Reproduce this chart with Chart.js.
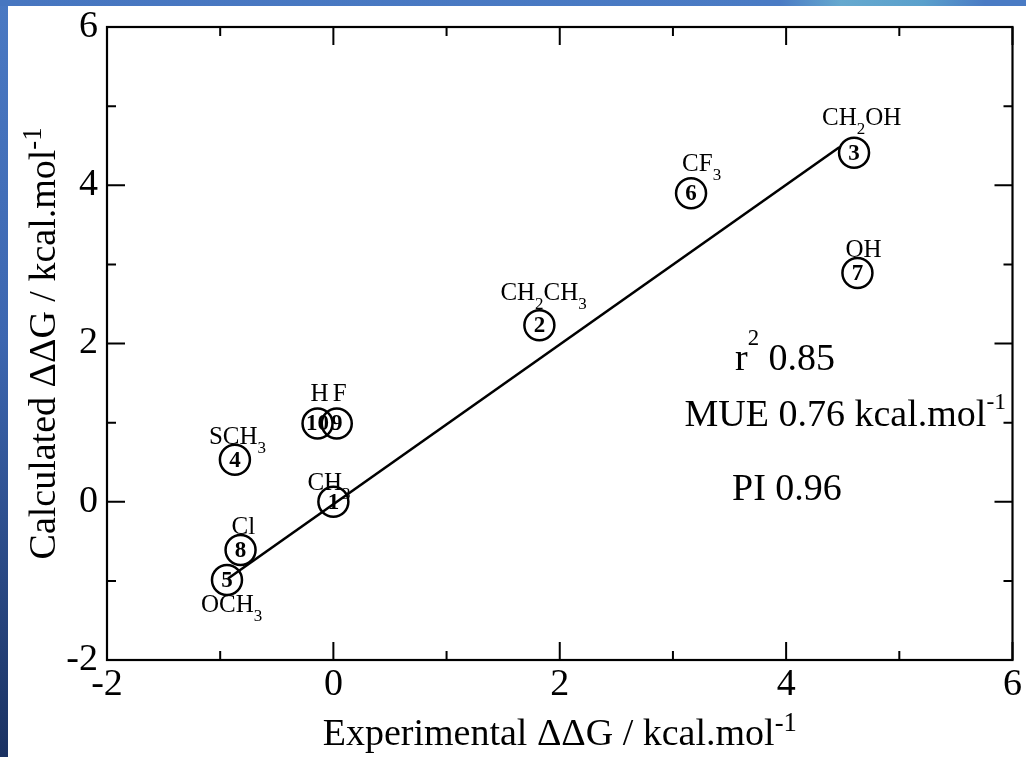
<!DOCTYPE html>
<html>
<head>
<meta charset="utf-8">
<script src="https://cdn.jsdelivr.net/npm/chart.js@4"></script>
<style>
  html, body { margin: 0; padding: 0; }
  body {
    width: 1026px; height: 757px; overflow: hidden; position: relative;
    background: linear-gradient(to bottom, #4a79c3 0%, #3c66b0 45%, #1b3262 100%);
  }
  #topband {
    position: absolute; left: 0; top: 0; width: 1026px; height: 6px;
    background: linear-gradient(to right, #4776c0 0%, #4a7bc4 76%, #66a9cf 82%, #5aa0cc 90%, #4a7bc4 96%);
  }
  #panel { position: absolute; left: 8px; top: 6px; right: 0; bottom: 0; background: #fff; }
  #wrap { position: absolute; left: 0; top: 0; width: 1026px; height: 757px; overflow: hidden; }
  #ddgChart { display: block; }
</style>
</head>
<body>
<div id="topband"></div>
<div id="panel"></div>
<div id="wrap"><canvas id="ddgChart" width="1030" height="757"></canvas></div>
<script>
// DATA

const compoundIds = ['1', '2', '3', '4', '5', '6', '7', '8', '9', '10'];
const substituents = ['CH_3', 'CH_2CH_3', 'CH_2OH', 'SCH_3', 'OCH_3', 'CF_3', 'OH', 'Cl', 'F', 'H'];
const experimentalDDG = [0.00, 1.82, 4.60, -0.87, -0.94, 3.16, 4.63, -0.82, 0.03, -0.14];
const calculatedDDG = [0.00, 2.23, 4.41, 0.53, -0.99, 3.90, 2.89, -0.61, 0.99, 0.99];

const fitX = [-0.93, 4.47];
const fitY = [-0.97, 4.48];

const xTickValues = [-2, 0, 2, 4, 6];
const yTickValues = [-2, 0, 2, 4, 6];

const statLines = ['r^2 0.85', 'MUE 0.76 kcal.mol^-1', 'PI 0.96'];
const xTitle = 'Experimental ΔΔG / kcal.mol^-1';
const yTitle = 'Calculated ΔΔG / kcal.mol^-1';

// label placement (pixels from circle centre: start x, baseline y)
const labelOffsets = [[-26, -12], [-39, -25], [-32, -28], [-26, -16], [-26, 32],
                      [-9, -22], [-12, -16], [-9, -16], [-4, -22], [-7, -22]];

const SERIF = "'Liberation Serif', 'Times New Roman', serif";

// RICH TEXT: _x = subscript char, ^xx = superscript run

function parseRich(str){
  const parts = [];
  let i = 0, buf = '';
  while(i < str.length){
    const c = str[i];
    if(c === '_'){
      if(buf){ parts.push({t: buf, k: 'n'}); buf = ''; }
      parts.push({t: str[i + 1], k: 'sub'});
      i += 2;
    } else if(c === '^'){
      if(buf){ parts.push({t: buf, k: 'n'}); buf = ''; }
      let j = i + 1, s = '';
      while(j < str.length && str[j] !== ' '){ s += str[j]; j++; }
      parts.push({t: s, k: 'sup'});
      i = j;
    } else {
      buf += c; i++;
    }
  }
  if(buf) parts.push({t: buf, k: 'n'});
  return parts;
}

function richWidth(ctx, str, size, o){
  let w = 0;
  parseRich(str).forEach(p => {
    const fs = p.k === 'n' ? size : size * (p.k === 'sub' ? o.subScale : o.supScale);
    ctx.font = fs + 'px ' + SERIF;
    w += ctx.measureText(p.t).width;
  });
  return w;
}

function drawRich(ctx, str, x, y, size, o){
  let cx = x;
  ctx.textAlign = 'left';
  ctx.textBaseline = 'alphabetic';
  parseRich(str).forEach(p => {
    let fs = size, dy = 0;
    if(p.k === 'sub'){ fs = size * o.subScale; dy = size * o.subDrop; }
    if(p.k === 'sup'){ fs = size * o.supScale; dy = -size * o.supRaise; }
    ctx.font = fs + 'px ' + SERIF;
    ctx.fillText(p.t, cx, y + dy);
    cx += ctx.measureText(p.t).width;
  });
}

// DECORATION PLUGIN

const decorPlugin = {
  id: 'decor',
  afterDatasetsDraw(chart){
    const ctx = chart.ctx;
    const a = chart.chartArea;
    const xs = chart.scales.x;
    const ys = chart.scales.y;
    ctx.save();
    ctx.fillStyle = '#000';
    ctx.strokeStyle = '#000';

    // frame
    ctx.lineWidth = 2.2;
    ctx.strokeRect(a.left, a.top, a.right - a.left, a.bottom - a.top);

    // inward ticks on all sides
    ctx.lineWidth = 2;
    ctx.beginPath();
    for(let v = -2; v <= 6; v++){
      const len = v % 2 === 0 ? 18 : 9;
      const px = xs.getPixelForValue(v);
      const py = ys.getPixelForValue(v);
      ctx.moveTo(px, a.bottom); ctx.lineTo(px, a.bottom - len);
      ctx.moveTo(px, a.top); ctx.lineTo(px, a.top + len);
      ctx.moveTo(a.left, py); ctx.lineTo(a.left + len, py);
      ctx.moveTo(a.right, py); ctx.lineTo(a.right - len, py);
    }
    ctx.stroke();

    // numbers inside circles
    ctx.font = 'bold 23px ' + SERIF;
    ctx.textAlign = 'center';
    ctx.textBaseline = 'middle';
    compoundIds.forEach((id, i) => {
      const px = xs.getPixelForValue(experimentalDDG[i]);
      const py = ys.getPixelForValue(calculatedDDG[i]);
      ctx.fillText(id, px, py + 1);
    });

    // substituent labels
    const lo = {subScale: 0.68, subDrop: 0.36, supScale: 0.6, supRaise: 0.6};
    substituents.forEach((s, i) => {
      const px = xs.getPixelForValue(experimentalDDG[i]);
      const py = ys.getPixelForValue(calculatedDDG[i]);
      drawRich(ctx, s, px + labelOffsets[i][0], py + labelOffsets[i][1], 25, lo);
    });

    // statistics
    const so = {subScale: 0.6, subDrop: 0.3, supScale: 0.6, supRaise: 0.66};
    drawRich(ctx, statLines[0], 735, 370, 38, so);
    const mo = {subScale: 0.6, subDrop: 0.3, supScale: 0.62, supRaise: 0.45};
    const mw = richWidth(ctx, statLines[1], 38, mo);
    drawRich(ctx, statLines[1], 1006 - mw, 426, 38, mo);
    drawRich(ctx, statLines[2], 732, 500, 38, so);

    // axis titles
    const to = {subScale: 0.6, subDrop: 0.3, supScale: 0.7, supRaise: 0.36};
    const tw = richWidth(ctx, xTitle, 38, to);
    drawRich(ctx, xTitle, (a.left + a.right) / 2 - tw / 2, 745, 38, to);

    const yw = richWidth(ctx, yTitle, 38, to);
    ctx.translate(55, (a.top + a.bottom) / 2);
    ctx.rotate(-Math.PI / 2);
    drawRich(ctx, yTitle, -yw / 2, 0, 38, to);

    ctx.restore();
  }
};

// CHART

const pointData = experimentalDDG.map((x, i) => ({x: x, y: calculatedDDG[i]}));
const fitData = fitX.map((x, i) => ({x: x, y: fitY[i]}));

const tickFont = {family: SERIF, size: 38};

new Chart(document.getElementById('ddgChart'), {
  type: 'scatter',
  data: {
    datasets: [{
      label: 'compounds',
      data: pointData,
      pointStyle: 'circle',
      pointRadius: 15,
      pointHoverRadius: 15,
      pointBorderWidth: 2.5,
      borderColor: '#000',
      backgroundColor: 'rgba(0,0,0,0)'
    }, {
      label: 'fit',
      data: fitData,
      showLine: true,
      pointRadius: 0,
      borderColor: '#000',
      borderWidth: 2.6,
      fill: false
    }]
  },
  options: {
    responsive: false,
    animation: false,
    devicePixelRatio: 1,
    layout: {padding: {left: 0, top: 27, right: 10, bottom: 0}},
    plugins: {legend: {display: false}, tooltip: {enabled: false}},
    scales: {
      x: {
        type: 'linear', min: -2, max: 6,
        afterBuildTicks: s => { s.ticks = xTickValues.map(v => ({value: v})); },
        afterFit: s => { s.height = 97; },
        grid: {display: false, drawTicks: false},
        border: {display: false},
        ticks: {font: tickFont, color: '#000', padding: 2, maxRotation: 0}
      },
      y: {
        type: 'linear', min: -2, max: 6,
        afterBuildTicks: s => { s.ticks = yTickValues.map(v => ({value: v})); },
        afterFit: s => { s.width = 107; s.paddingTop = 0; s.paddingBottom = 0; },
        grid: {display: false, drawTicks: false},
        border: {display: false},
        ticks: {font: tickFont, color: '#000', padding: 9}
      }
    }
  },
  plugins: [decorPlugin]
});
</script>
</body>
</html>
